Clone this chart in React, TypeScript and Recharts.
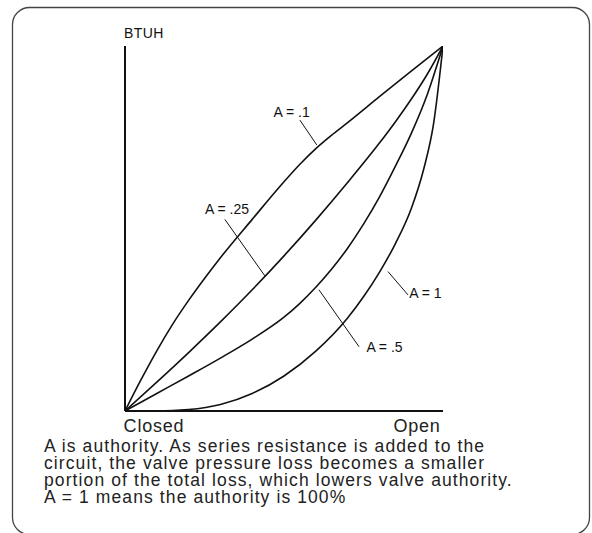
import React from 'react';
import { LineChart, Line, XAxis, YAxis, ReferenceLine, ReferenceDot } from 'recharts';

const FONT = '"Liberation Sans", Arial, Helvetica, sans-serif';
const INK = '#111';

// Valve characteristic curves: x = stroke (% open), y = BTUH (% of full)
const curveA01 = [
  { x: 0, y: 0 }, { x: 5, y: 8.5 }, { x: 10, y: 16.5 }, { x: 15, y: 23.8 }, { x: 20, y: 30.3 },
  { x: 25, y: 36.3 }, { x: 30, y: 42 }, { x: 40, y: 52.5 }, { x: 50, y: 62.8 }, { x: 55, y: 67.6 },
  { x: 60, y: 71.9 }, { x: 65, y: 75.6 }, { x: 70, y: 79 }, { x: 80, y: 86.1 }, { x: 90, y: 93.1 },
  { x: 100, y: 100 },
];
const curveA025 = [
  { x: 0, y: 0 }, { x: 10, y: 7.9 }, { x: 20, y: 16.0 }, { x: 30, y: 24.4 }, { x: 40, y: 33.2 },
  { x: 50, y: 42.5 }, { x: 60, y: 52.3 }, { x: 70, y: 62.6 }, { x: 80, y: 73.4 }, { x: 85, y: 79.2 },
  { x: 90, y: 85.4 }, { x: 95, y: 92.2 }, { x: 100, y: 100 },
];
const curveA05 = [
  { x: 0, y: 0 }, { x: 10, y: 4.8 }, { x: 20, y: 9.6 }, { x: 30, y: 14.5 }, { x: 40, y: 19.7 },
  { x: 50, y: 25.7 }, { x: 55, y: 29.5 }, { x: 60, y: 33.9 }, { x: 65, y: 38.9 }, { x: 70, y: 44.6 },
  { x: 75, y: 51.2 }, { x: 80, y: 58.6 }, { x: 85, y: 67 }, { x: 90, y: 76 }, { x: 95, y: 86.6 },
  { x: 100, y: 100 },
];
const curveA1 = [
  { x: 0, y: 0 }, { x: 10, y: 0 }, { x: 20, y: 0.4 }, { x: 30, y: 1.8 }, { x: 40, y: 4.8 },
  { x: 50, y: 9.6 }, { x: 60, y: 16.4 }, { x: 70, y: 25.5 }, { x: 75, y: 31.3 }, { x: 80, y: 38 },
  { x: 85, y: 45.8 }, { x: 90, y: 55.4 }, { x: 94, y: 66.5 }, { x: 97, y: 78.5 }, { x: 100, y: 100 },
];
const curves = [curveA01, curveA025, curveA05, curveA1];

// Curve labels and their leader lines (data coordinates)
const labelTexts = ['A = .1', 'A = .25', 'A = 1', 'A = .5'];
const labelX = [52.4, 32.1, 94.5, 81.6];
const labelY = [82.0, 55.3, 32.4, 17.6];
const leaderFrom = [{ x: 55.0, y: 79.7 }, { x: 31.4, y: 52.5 }, { x: 82.7, y: 38.2 }, { x: 61.0, y: 33.2 }];
const leaderTo = [{ x: 60.3, y: 72.9 }, { x: 44.0, y: 37.0 }, { x: 89.0, y: 31.8 }, { x: 73.6, y: 17.6 }];

const yAxisTitle = 'BTUH';
const xTickLabels = ['Closed', 'Open'];
const captionLines = [
  'A is authority. As series resistance is added to the',
  'circuit, the valve pressure loss becomes a smaller',
  'portion of the total loss, which lowers valve authority.',
  'A = 1 means the authority is 100%',
];

const W = 592;
const H = 533;

export default function App() {
  return (
    <div style={{ position: 'absolute', left: 0, top: 0, width: W, height: H, overflow: 'hidden', background: '#fff' }}>
      <svg width={W} height={H} style={{ position: 'absolute', left: 0, top: 0 }}>
        <rect x={12.5} y={7.5} width={577} height={527} rx={17} ry={17} fill="none" stroke="#444" strokeWidth={1.3} />
        <text x={124} y={38} fontFamily={FONT} fontSize={14} letterSpacing={0.4} fill={INK}>{yAxisTitle}</text>
        <text x={154} y={432} fontFamily={FONT} fontSize={18} letterSpacing={0.8} fill="#222" textAnchor="middle">{xTickLabels[0]}</text>
        <text x={417} y={432} fontFamily={FONT} fontSize={18} letterSpacing={0.8} fill="#222" textAnchor="middle">{xTickLabels[1]}</text>
        {captionLines.map((t, i) => (
          <text key={i} x={44} y={452 + i * 17} fontFamily={FONT} fontSize={17.5} letterSpacing={1.1} fill="#222">{t}</text>
        ))}
      </svg>
      <div style={{ position: 'absolute', left: 0, top: 0 }}>
        <LineChart width={W} height={H} margin={{ top: 46, right: 149, bottom: 121, left: 124 }}>
          <XAxis dataKey="x" type="number" domain={[0, 100]} height={1} tick={false} tickLine={false}
            axisLine={{ stroke: INK, strokeWidth: 2 }} allowDataOverflow />
          <YAxis dataKey="y" type="number" domain={[0, 100]} width={1} tick={false} tickLine={false}
            axisLine={{ stroke: INK, strokeWidth: 2 }} allowDataOverflow />
          {curves.map((c, i) => (
            <Line key={i} data={c} dataKey="y" type="monotone" stroke={INK} strokeWidth={1.6}
              dot={false} activeDot={false} isAnimationActive={false} />
          ))}
          {leaderFrom.map((p, i) => (
            <ReferenceLine key={'l' + i} segment={[p, leaderTo[i]]} stroke={INK} strokeWidth={1} ifOverflow="visible" />
          ))}
          {labelTexts.map((t, i) => (
            <ReferenceDot key={'t' + i} x={labelX[i]} y={labelY[i]} r={1} ifOverflow="visible"
              shape={(p: any) => (
                <text x={p.cx} y={p.cy + 5} textAnchor="middle" fontFamily={FONT} fontSize={14} fill={INK}>{t}</text>
              )} />
          ))}
        </LineChart>
      </div>
    </div>
  );
}
